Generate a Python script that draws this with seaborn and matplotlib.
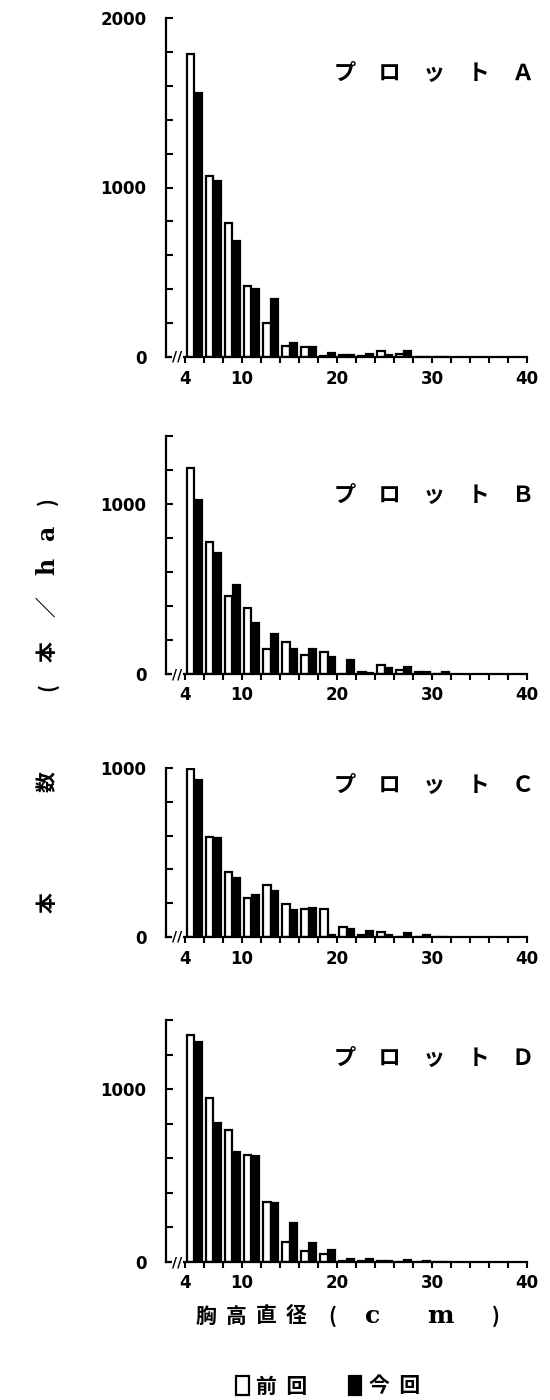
import numpy as np
import pandas as pd
import matplotlib
matplotlib.use("Agg")
import matplotlib.pyplot as plt
import seaborn as sns

# ---- data -------------------------------------------------------------
dbh = [4, 6, 8, 10, 12, 14, 16, 18, 20, 22, 24, 26, 28, 30]
periods = ["前回", "今回"]
plots = ["A", "B", "C", "D"]

A_prev = [1786, 1066, 793, 419, 199, 65, 60, 5, 10, 8, 35, 20, 0, 0]
A_curr = [1556, 1036, 684, 403, 340, 85, 60, 25, 10, 20, 10, 35, 0, 0]
B_prev = [1210, 778, 459, 390, 145, 190, 112, 131, 0, 14, 53, 24, 14, 0]
B_curr = [1024, 714, 524, 302, 233, 145, 145, 102, 82, 3, 33, 43, 14, 10]
C_prev = [996, 589, 387, 230, 305, 195, 165, 165, 60, 14, 28, 0, 0, 0]
C_curr = [931, 583, 348, 246, 275, 157, 170, 12, 45, 35, 12, 22, 12, 0]
D_prev = [1314, 951, 761, 621, 346, 116, 62, 45, 8, 4, 4, 0, 0, 0]
D_curr = [1274, 806, 635, 612, 340, 227, 108, 70, 18, 18, 4, 10, 3, 0]

y_max = [2000, 1400, 1000, 1400]
x_ticklabels = ["4", "10", "20", "30", "40"]
panel_titles = ["プ　ロ　ッ　ト　Ａ", "プ　ロ　ッ　ト　Ｂ",
                "プ　ロ　ッ　ト　Ｃ", "プ　ロ　ッ　ト　Ｄ"]
y_label_chars = ["本", "数", "(", "本", "／", "h", "a", ")"]
x_label_chars = ["胸", "高", "直", "径", "(", "c", "m", ")"]
legend_labels = ["前  回", "今  回"]

series = {"A": (A_prev, A_curr), "B": (B_prev, B_curr),
          "C": (C_prev, C_curr), "D": (D_prev, D_curr)}

# ---- style ------------------------------------------------------------
sns.set_theme(style="ticks")
plt.rcParams["font.family"] = ["Noto Sans CJK JP", "DejaVu Sans"]
plt.rcParams["axes.linewidth"] = 1.6
plt.rcParams["text.color"] = "black"
plt.rcParams["axes.edgecolor"] = "black"
plt.rcParams["xtick.color"] = "black"
plt.rcParams["ytick.color"] = "black"

W, H = 550, 1400
fig = plt.figure(figsize=(W / 100, H / 100), dpi=100)

def fx(px):
    return px / W

def fy(py):
    return 1 - py / H

# axes boxes in pixels: (left, top, right, bottom)
boxes = [(166, 18, 527, 357), (166, 436, 527, 674),
         (166, 768, 527, 937), (166, 1020, 527, 1262)]
title_y = [73, 495, 785, 1058]

num_font = dict(family=["DejaVu Sans"], weight="bold", size=12, color="black")

handles = None
for i, key in enumerate(plots):
    l, t, r, b = boxes[i]
    ax = fig.add_axes([fx(l), fy(b), (r - l) / W, (b - t) / H])
    prev, curr = series[key]
    df = pd.DataFrame({
        "dbh": np.array(dbh * 2, dtype=float) + 1.0,   # class midpoint
        "n": prev + curr,
        "period": [periods[0]] * len(dbh) + [periods[1]] * len(dbh),
    })
    sns.barplot(data=df, x="dbh", y="n", hue="period", hue_order=periods,
                palette={"前回": "white", "今回": "black"}, native_scale=True,
                errorbar=None, edgecolor="black", linewidth=1.6, width=0.8,
                ax=ax, legend=(i == 0))
    if i == 0:
        handles, _ = ax.get_legend_handles_labels()
        ax.get_legend().remove()

    ax.set_xlim(2, 40)
    ax.set_ylim(0, y_max[i])
    sns.despine(ax=ax)
    ax.set_xlabel("")
    ax.set_ylabel("")

    xt = list(range(4, 41, 2))
    ax.set_xticks(xt)
    ax.set_xticklabels([str(v) if str(v) in x_ticklabels else "" for v in xt],
                       **num_font)
    ax.tick_params(axis="x", direction="out", length=4, width=1.5, pad=5)

    ax.set_yticks(list(range(0, y_max[i] + 1, 1000)))
    ax.set_yticklabels([str(v) for v in range(0, y_max[i] + 1, 1000)], **num_font)
    ax.set_yticks(list(range(0, y_max[i] + 1, 200)), minor=True)
    ax.tick_params(axis="y", which="both", direction="in", length=5, width=1.5, pad=14)

    # axis break mark
    ax.text(3.2, 0, "//", ha="center", va="center", fontsize=10, fontweight="bold",
            family="DejaVu Sans", clip_on=False,
            bbox=dict(facecolor="white", edgecolor="none", pad=0.2))

    fig.text(fx(534), fy(title_y[i]), panel_titles[i], ha="right", va="center",
             fontsize=16, fontweight="bold")

# y label: rotated, spaced characters (bottom to top)
y_pos = [903, 782, 687, 652, 607, 566, 532, 501]
for ch, yp in zip(y_label_chars, y_pos):
    big = ch in ("h", "a")
    fig.text(fx(47), fy(yp), ch, rotation=90, ha="center", va="center",
             fontsize=17 if big else 15, fontweight="bold",
             family=["DejaVu Serif"] if big else None)

# x label: spaced characters
x_pos = [206, 236, 266, 296, 332, 373, 440, 496]
for ch, xp in zip(x_label_chars, x_pos):
    big = ch in ("c", "m")
    fig.text(fx(xp), fy(1316), ch, ha="center", va="center",
             fontsize=18 if big else 15, fontweight="bold",
             family=["DejaVu Serif"] if big else None)

fig.legend(handles, legend_labels, loc="center", bbox_to_anchor=(fx(328), fy(1386)),
           ncol=2, frameon=False, handlelength=0.6, handleheight=1.0,
           handletextpad=0.35, columnspacing=2.0,
           prop=dict(family=["Noto Sans CJK JP"], weight="bold", size=15))

fig.savefig("out.png", dpi=100, facecolor="white")
